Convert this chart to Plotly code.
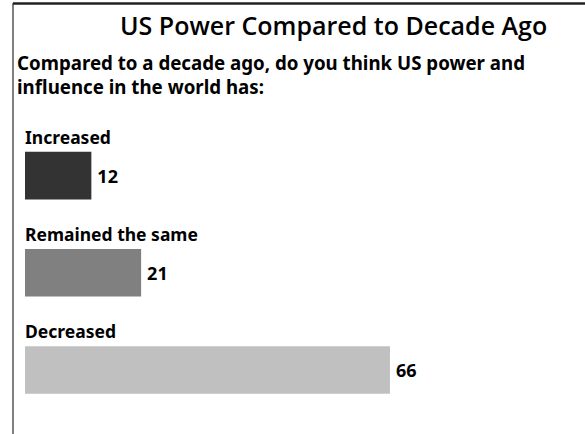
import plotly.graph_objects as go

# survey answers and percentages
answers = ["Increased", "Remained the same", "Decreased"]
percent = [12, 21, 66]
bar_colors = ["#333333", "#808080", "#c0c0c0"]

title = "US Power Compared to Decade Ago"
question = "Compared to a decade ago, do you think US power and<br>influence in the world has:"

FONT = "Noto Sans"

# layout in pixels
L, R, T, B = 25, 7, 127, 11
W, H = 585 - L - R, 434 - T - B


def px_x(px):
    return (px - L) / W


def px_y(py):
    return (T + H - py) / H


fig = go.Figure(go.Bar(
    x=percent,
    y=answers,
    orientation="h",
    marker=dict(color=bar_colors, line=dict(width=0)),
    width=0.49,
    text=percent,
    texttemplate="\u2009%{x}",
    textposition="outside",
    cliponaxis=False,
    textfont=dict(family=FONT, size=18, color="#000000", weight="bold"),
    hoverinfo="skip",
))

# category labels above each bar
for a in answers:
    fig.add_annotation(
        x=0, y=a, xref="x", yref="y", text="<b>" + a + "</b>",
        xanchor="left", yanchor="bottom", yshift=25, xshift=-2, showarrow=False,
        font=dict(family=FONT, size=17.5, color="#000000"),
    )

fig.add_annotation(
    x=px_x(333), y=px_y(25), xref="paper", yref="paper", text=title,
    xanchor="center", yanchor="middle", showarrow=False,
    font=dict(family="Open Sans", size=25, color="#000000", weight=600),
)
fig.add_annotation(
    x=px_x(15), y=px_y(48), xref="paper", yref="paper", text="<b>" + question + "</b>",
    xanchor="left", yanchor="top", align="left", showarrow=False,
    font=dict(family=FONT, size=18.7, color="#000000"),
)

# frame: left edge and top edge
fig.add_shape(type="line", xref="paper", yref="paper",
              x0=px_x(13), x1=px_x(13), y0=px_y(440), y1=px_y(3),
              line=dict(color="#555555", width=1.5), layer="above")
fig.add_shape(type="line", xref="paper", yref="paper",
              x0=px_x(13), x1=px_x(585), y0=px_y(3.5), y1=px_y(3.5),
              line=dict(color="#222222", width=2.5), layer="above")

fig.update_layout(
    width=585, height=434,
    margin=dict(l=L, r=R, t=T, b=B),
    paper_bgcolor="white", plot_bgcolor="white",
    showlegend=False,
    xaxis=dict(range=[0, 100], visible=False),
    yaxis=dict(autorange="reversed", visible=False),
)

# page body has a default 8px margin; drop it so the figure sits at the corner
fig.write_html("out.html", config={"displayModeBar": False},
               post_script="document.body.style.margin='0';document.body.style.overflow='hidden';")
